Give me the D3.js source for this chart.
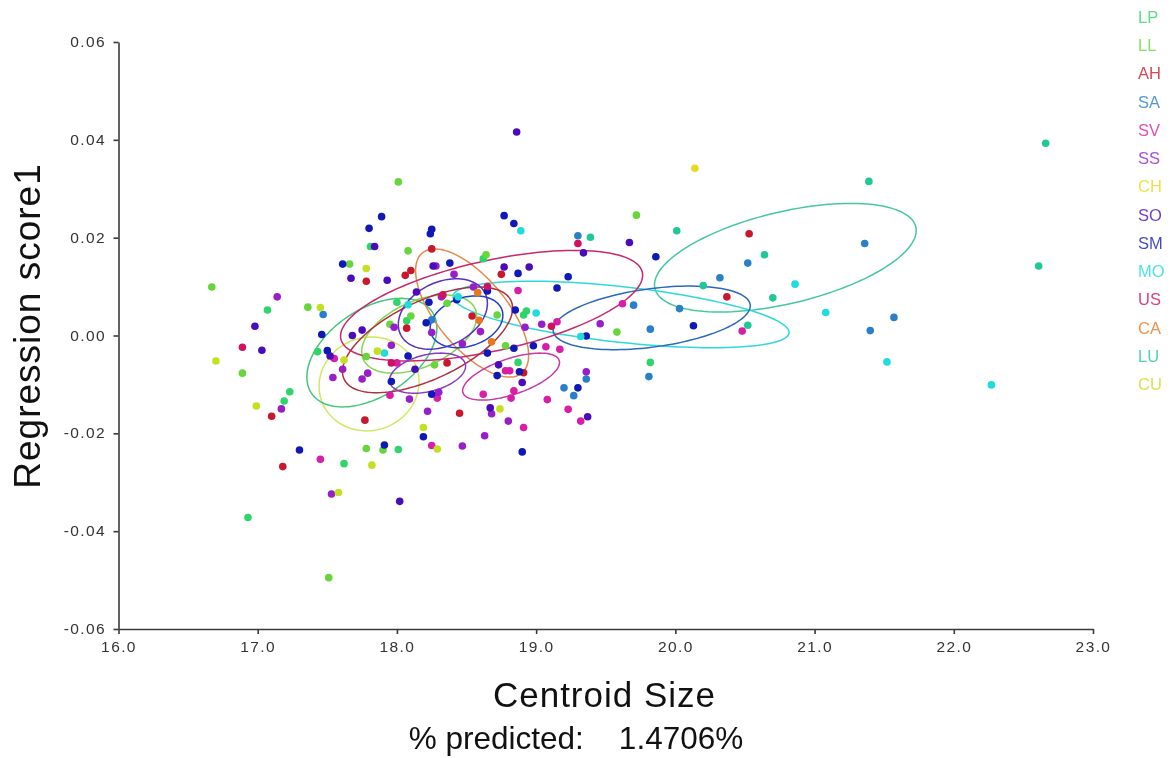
<!DOCTYPE html>
<html>
<head>
<meta charset="utf-8">
<script src="https://cdnjs.cloudflare.com/ajax/libs/d3/7.8.5/d3.min.js"></script>
<style>
  html, body { margin: 0; background: #fff; }
  svg { display: block; font-family: "Liberation Sans", Arial, sans-serif; filter: blur(0.35px); }
</style>
</head>
<body>
<svg class="chart"></svg>
<script>
const groups = ['LP', 'LL', 'AH', 'SA', 'SV', 'SS', 'CH', 'SO', 'SM', 'MO', 'US', 'CA', 'LU', 'CU'];
const colors = ['#2fd46a', '#66d63a', '#c8182e', '#2a80c8', '#d81ea8', '#9a1ec8', '#e8d820', '#4a0cb8', '#1018b8', '#20dcdc', '#d01060', '#e87820', '#20c898', '#c4e020'];
const xTicks = [16, 17, 18, 19, 20, 21, 22, 23];
const yTicks = [-0.06, -0.04, -0.02, 0, 0.02, 0.04, 0.06];

const LP = [[17.07, .0052], [17.23, -.0115], [17.19, -.0134], [17.62, -.0262], [16.93, -.0372], [17.43, -.0033], [18.01, -.0233], [18.87, -.0055], [17.81, .0182], [18.62, .0157], [18.00, .0068], [18.93, .0050], [18.91, .0042], [18.07, .0030], [19.82, -.0055]];
const LL = [[16.67, .0099], [16.89, -.0077], [17.51, -.0495], [17.78, -.0043], [18.27, -.0060], [17.78, -.0231], [17.90, -.0234], [18.78, -.0021], [18.01, .0314], [18.08, .0173], [18.64, .0165], [17.66, .0146], [18.36, .0066], [17.36, .0058], [18.72, .0042], [18.10, .0040], [17.95, .0023], [19.72, .0246], [19.58, .0007]];
const AH = [[17.10, -.0165], [17.18, -.0268], [18.36, -.0056], [17.77, -.0173], [18.45, -.0159], [18.91, -.0076], [18.25, .0177], [18.75, .0125], [18.10, .0133], [18.06, .0123], [17.78, .0111], [18.54, .0040], [18.07, .0015], [20.53, .0208], [20.37, .0079]];
const SA = [[19.36, -.0089], [19.20, -.0107], [19.27, -.0123], [17.47, .0043], [18.25, .0032], [19.30, .0204], [21.36, .0188], [20.52, .0148], [20.32, .0118], [20.03, .0055], [19.70, .0062], [21.57, .0037], [21.40, .0010], [19.82, .0013], [19.81, -.0084]];
const SV = [[17.45, -.0253], [17.55, -.0047], [18.00, -.0056], [17.95, -.0122], [18.29, -.0128], [18.25, -.0225], [18.91, -.0188], [18.62, -.0120], [18.84, -.0113], [18.82, -.0128], [18.78, -.0072], [18.81, -.0072], [19.08, -.0131], [19.07, -.0023], [19.17, -.0028], [19.23, -.0151], [19.32, -.0175], [18.87, .0092], [19.62, .0065], [19.15, .0028], [20.48, .0009]];
const SS = [[17.14, .0079], [17.17, -.0150], [17.53, -.0324], [17.61, -.0069], [17.54, -.0086], [17.75, -.0089], [17.79, -.0077], [17.96, -.0020], [18.09, -.0130], [18.30, -.0116], [18.22, -.0155], [18.47, -.0226], [18.63, -.0205], [18.80, -.0175], [18.68, -.0160], [18.47, -.0017], [19.36, -.0074], [18.28, .0142], [18.41, .0125], [18.32, .0079], [18.55, .0099], [18.25, .0006], [18.92, .0017], [19.04, .0023], [17.98, .0017], [18.60, .0008], [19.46, .0024]];
const CH = [[20.14, .0342]];
const SO = [[16.98, .0019], [17.03, -.0030], [17.52, -.0042], [18.13, -.0069], [18.67, -.0148], [18.73, -.0060], [18.90, -.0096], [19.37, -.0166], [18.02, -.0339], [17.84, .0182], [18.26, .0142], [18.77, .0140], [18.95, .0140], [17.67, .0117], [17.93, .0113], [18.14, .0089], [17.68, .0000], [17.75, .0011], [19.67, .0190], [19.34, .0169], [18.86, .0416]];
const SM = [[17.30, -.0234], [17.50, -.0031], [18.08, -.0042], [17.96, -.0094], [18.25, -.0120], [18.19, -.0207], [17.91, -.0224], [18.72, -.0082], [18.88, -.0074], [18.65, -.0036], [18.84, -.0026], [18.98, -.0021], [19.30, -.0107], [18.90, -.0238], [17.89, .0243], [17.80, .0219], [18.25, .0217], [18.24, .0208], [18.77, .0245], [18.84, .0229], [17.61, .0146], [18.38, .0148], [18.87, .0127], [18.65, .0091], [18.23, .0068], [18.43, .0073], [18.85, .0052], [18.21, .0026], [17.46, .0002], [19.23, .0120], [19.15, .0097], [19.86, .0161], [20.13, .0020], [19.36, -.0001]];
const MO = [[17.91, -.0036], [18.89, .0214], [18.08, .0063], [18.44, .0079], [19.00, .0046], [20.86, .0105], [21.08, .0047], [21.52, -.0054], [19.32, -.0002], [22.27, -.0101]];
const US = [[16.89, -.0024], [17.96, -.0056], [18.33, .0083], [18.65, .0100], [19.30, .0188], [19.11, .0019]];
const CA = [[18.68, -.0013], [18.58, .0088], [18.59, .0031]];
const LU = [[21.39, .0315], [20.01, .0214], [19.39, .0201], [20.64, .0165], [20.20, .0102], [20.70, .0077], [20.52, .0021], [22.66, .0393], [22.61, .0142]];
const CU = [[16.70, -.0052], [16.99, -.0144], [17.58, -.0321], [17.62, -.0050], [17.86, -.0032], [18.19, -.0188], [18.29, -.0232], [18.74, -.0150], [17.82, -.0265], [17.78, .0137], [17.45, .0057]];
const points = [LP, LL, AH, SA, SV, SS, CH, SO, SM, MO, US, CA, LU, CU];

// group, centre x, centre y, half width, half height, correlation
const ellipses = [
  ['LU', 20.79, .0159, .94, .0111, .5, '#45c8a0'],
  ['MO', 19.61, .0043, 1.207, .0068, -.54, '#30d8dc'],
  ['SA', 19.83, .0036, .708, .0065, .38, '#2a6ab8'],
  ['CU', 17.80, -.0099, .359, .0096, .05, '#d0e860'],
  ['LP', 17.82, -.0035, .467, .0111, .45, '#40c878'],
  ['LL', 18.16, .0003, .413, .0080, .45, '#80d850'],
  ['CA', 18.54, .0046, .406, .0131, -.66, '#e8884a'],
  ['US', 18.68, .0061, 1.085, .0113, .55, '#c8286e'],
  ['AH', 18.22, -.0009, .611, .0108, .6, '#b03040'],
  ['SS', 18.22, -.0077, .273, .0041, .35, '#8a3ac0'],
  ['SV', 18.82, -.0084, .348, .0048, .6, '#c83aa8'],
  ['SO', 18.33, .0044, .32, .0072, .3, '#5a30c0'],
  ['SM', 18.50, .0028, .261, .0053, .25, '#2040c8'],
];

const [width, height] = [1173, 758];
const svg = d3.select('.chart').attr('width', width).attr('height', height);
const x = d3.scaleLinear().domain([16, 23]).range([118.5, 1093]);
const y = d3.scaleLinear().domain([-0.06, 0.06]).range([629, 42]);
const legendY = d3.scalePoint().domain(groups).range([23, 390]);

const steps = d3.range(0, 2 * Math.PI, Math.PI / 60);
const outline = d3.line().curve(d3.curveLinearClosed)
  .x(([cx, , rx], i) => x(cx + rx * Math.cos(steps[i])))
  .y(([, cy, , ry, r], i) => y(cy + ry * (r * Math.cos(steps[i]) + Math.sqrt(1 - r * r) * Math.sin(steps[i]))));

svg.append('g')
  .selectAll('path')
  .data(ellipses)
  .enter()
  .append('path')
  .attr('d', ([, cx, cy, rx, ry, r]) => outline(steps.map(() => [cx, cy, rx, ry, r])))
  .attr('fill', 'none')
  .attr('stroke', (e) => e[6])
  .attr('stroke-width', 1.5);

svg.append('g')
  .selectAll('g')
  .data(points)
  .enter()
  .append('g')
  .attr('fill', (_, i) => colors[i])
  .selectAll('circle')
  .data((d) => d)
  .enter()
  .append('circle')
  .attr('cx', (d) => x(d[0]))
  .attr('cy', (d) => y(d[1]))
  .attr('r', 3.8);

const xAxis = svg.append('g')
  .attr('transform', `translate(0,${y(-0.06)})`)
  .call(d3.axisBottom(x).tickValues(xTicks).tickFormat(d3.format('.1f')).tickSize(5).tickSizeOuter(0));
const yAxis = svg.append('g')
  .attr('transform', `translate(${x(16)},0)`)
  .call(d3.axisLeft(y).tickValues(yTicks).tickFormat((d) => d3.format('.2f')(d).replace('−', '-')).tickSize(5).tickSizeOuter(0));

[xAxis, yAxis].forEach((axis) => {
  axis.selectAll('.domain, line').attr('stroke', '#3a3a3a').attr('stroke-width', 1.6);
  axis.selectAll('text')
    .attr('fill', '#333')
    .style('font-family', '"Liberation Sans", Arial, sans-serif')
    .style('font-size', '15.5px')
    .style('letter-spacing', '1.4px');
});
xAxis.selectAll('text').attr('y', 12);
yAxis.selectAll('text').attr('x', -12.5).attr('dy', '0.3em');

svg.append('text')
  .attr('x', 604.5)
  .attr('y', 707)
  .attr('text-anchor', 'middle')
  .attr('font-size', 35)
  .attr('letter-spacing', 1)
  .attr('fill', '#111')
  .text('Centroid Size');

svg.append('text')
  .attr('transform', 'translate(40,326) rotate(-90)')
  .attr('text-anchor', 'middle')
  .attr('font-size', 37)
  .attr('letter-spacing', 1)
  .attr('fill', '#111')
  .text('Regression score1');

svg.append('text')
  .attr('x', 576)
  .attr('y', 749)
  .attr('text-anchor', 'middle')
  .attr('font-size', 31.5)
  .attr('fill', '#111')
  .style('white-space', 'pre')
  .text('% predicted:    1.4706%');

svg.append('g')
  .selectAll('text')
  .data(groups)
  .enter()
  .append('text')
  .attr('x', 1138)
  .attr('y', (d) => legendY(d))
  .attr('font-size', 16.5)
  .attr('fill', (_, i) => colors[i])
  .attr('fill-opacity', 0.8)
  .text((d) => d);
</script>
</body>
</html>
